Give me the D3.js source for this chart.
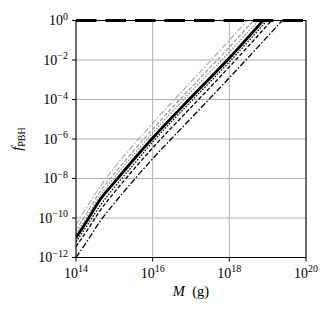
<!DOCTYPE html>
<html>
<head>
<meta charset="utf-8">
<script src="https://cdn.jsdelivr.net/npm/d3@7"></script>
<style>
  body { margin: 0; background: #fff; }
  text { font-family: "Liberation Serif", "DejaVu Serif", serif; }
</style>
</head>
<body>
<svg id="chart" width="334" height="314"></svg>
<script>
// log10 of mass (g) and log10 of f_PBH for each curve
const grayDashDotM = [14, 14.3, 14.6, 15, 15.5, 16, 17, 18, 18.46]
const grayDashDotF = [-10.35, -9.4, -8.5, -7.45, -6.3, -5.2, -3.1, -1.0, 0]
const grayDashedM = [14, 14.3, 14.6, 15, 15.5, 16, 17, 18, 18.63]
const grayDashedF = [-10.6, -9.7, -8.75, -7.75, -6.6, -5.5, -3.4, -1.35, 0]
const grayDottedM = [14, 14.3, 14.6, 15, 15.5, 16, 17, 18, 18.76]
const grayDottedF = [-10.8, -9.9, -8.95, -7.95, -6.8, -5.7, -3.6, -1.6, 0]
const solidM = [14, 14.3, 14.6, 15, 15.5, 16, 17, 18, 18.88]
const solidF = [-11, -10.1, -9.15, -8.2, -7.05, -5.95, -3.9, -1.9, 0]
const blackDottedM = [14, 14.3, 14.6, 15, 15.5, 16, 17, 18, 18.98]
const blackDottedF = [-11.2, -10.35, -9.45, -8.45, -7.3, -6.15, -4.1, -2.1, 0]
const blackDashedM = [14, 14.3, 14.6, 15, 15.5, 16, 17, 18, 19.1]
const blackDashedF = [-11.45, -10.6, -9.7, -8.7, -7.55, -6.45, -4.4, -2.35, 0]
const blackDashDotM = [14, 14.3, 14.6, 15, 15.5, 16, 17, 18, 19.38]
const blackDashDotF = [-12, -11.15, -10.25, -9.25, -8.1, -7.0, -4.95, -2.9, 0]

const xTicks = [14, 16, 18, 20]
const yTicks = [0, -2, -4, -6, -8, -10, -12]
const limitLevel = 0

const width = 334
const height = 314
const marginLeft = 76
const marginRight = 28
const marginTop = 20.5
const marginBottom = 56.5

const svg = d3.select('#chart')
const boundWidth = width - marginLeft - marginRight
const boundHeight = height - marginTop - marginBottom

const xScale = d3.scaleLog().domain([1e14, 1e20]).range([0, boundWidth])
const yScale = d3.scaleLog().domain([1e-12, 1]).range([boundHeight, 0])

const bounds = svg.append('g')
  .attr('transform', `translate(${marginLeft},${marginTop})`)

bounds.append('clipPath').attr('id', 'clip')
  .append('rect').attr('width', boundWidth).attr('height', boundHeight)

// grid
bounds.append('g')
  .selectAll('line')
  .data(xTicks)
  .join('line')
  .attr('x1', d => xScale(10 ** d)).attr('x2', d => xScale(10 ** d))
  .attr('y1', 0).attr('y2', boundHeight)
  .attr('stroke', '#b0b0b0').attr('stroke-width', 1)

bounds.append('g')
  .selectAll('line')
  .data(yTicks)
  .join('line')
  .attr('y1', d => yScale(10 ** d)).attr('y2', d => yScale(10 ** d))
  .attr('x1', 0).attr('x2', boundWidth)
  .attr('stroke', '#b0b0b0').attr('stroke-width', 1)

// curves
const series = [
  { m: grayDashDotM, f: grayDashDotF, color: '#ababab', w: 1.2, dash: '6,2,1.5,2' },
  { m: grayDashedM, f: grayDashedF, color: '#9a9a9a', w: 1.2, dash: '4,2' },
  { m: grayDottedM, f: grayDottedF, color: '#888', w: 1.2, dash: '1.5,1.5' },
  { m: blackDashDotM, f: blackDashDotF, color: '#000', w: 1.3, dash: '6,2,1.5,2' },
  { m: blackDashedM, f: blackDashedF, color: '#000', w: 1.3, dash: '4,2' },
  { m: blackDottedM, f: blackDottedF, color: '#000', w: 1.3, dash: '1.5,1.5' },
  { m: solidM, f: solidF, color: '#000', w: 2.8, dash: null },
]

const line = d3.line()
  .x(d => xScale(10 ** d[0]))
  .y(d => yScale(10 ** d[1]))
  .curve(d3.curveMonotoneX)

const curves = bounds.append('g').attr('clip-path', 'url(#clip)')
series.forEach(s => {
  curves.append('path')
    .datum(s.m.map((m, i) => [m, s.f[i]]))
    .attr('fill', 'none')
    .attr('stroke', s.color)
    .attr('stroke-width', s.w)
    .attr('stroke-dasharray', s.dash)
    .attr('d', line)
})

// frame
bounds.append('rect')
  .attr('width', boundWidth).attr('height', boundHeight)
  .attr('fill', 'none').attr('stroke', '#000').attr('stroke-width', 1)

// f = 1 limit
bounds.append('line')
  .attr('x1', xScale(1e14)).attr('x2', xScale(1e20))
  .attr('y1', yScale(10 ** limitLevel)).attr('y2', yScale(10 ** limitLevel))
  .attr('stroke', '#000').attr('stroke-width', 3)
  .attr('stroke-dasharray', '20.5,9')

// axes ticks + labels
const xAxis = bounds.append('g').attr('transform', `translate(0,${boundHeight})`)
xAxis.selectAll('line')
  .data(xTicks).join('line')
  .attr('x1', d => xScale(10 ** d)).attr('x2', d => xScale(10 ** d))
  .attr('y1', 0).attr('y2', 4)
  .attr('stroke', '#000')
const xLabels = xAxis.selectAll('text')
  .data(xTicks).join('text')
  .attr('x', d => xScale(10 ** d))
  .attr('y', 20)
  .attr('text-anchor', 'middle')
  .attr('font-size', 14)
xLabels.append('tspan').text('10')
xLabels.append('tspan').attr('dy', -5.5).attr('font-size', 10).text(d => d)

const yAxis = bounds.append('g')
yAxis.selectAll('line')
  .data(yTicks).join('line')
  .attr('y1', d => yScale(10 ** d)).attr('y2', d => yScale(10 ** d))
  .attr('x1', -4).attr('x2', 0)
  .attr('stroke', '#000')
const yLabels = yAxis.selectAll('text')
  .data(yTicks).join('text')
  .attr('x', -8)
  .attr('y', d => yScale(10 ** d) + 4.5)
  .attr('text-anchor', 'end')
  .attr('font-size', 14)
yLabels.append('tspan').text('10')
yLabels.append('tspan').attr('dy', -5.5).attr('font-size', 10)
  .text(d => d < 0 ? '\u2212' + Math.abs(d) : d)

// axis titles
const xTitle = svg.append('text')
  .attr('x', marginLeft + boundWidth / 2)
  .attr('y', 296)
  .attr('text-anchor', 'middle')
  .attr('font-size', 14.5)
xTitle.append('tspan').attr('font-style', 'italic').text('M')
xTitle.append('tspan').text('\u2002(g)')

const yTitle = svg.append('text')
  .attr('transform', `translate(22,${marginTop + boundHeight / 2}) rotate(-90)`)
  .attr('text-anchor', 'middle')
  .attr('font-size', 14.5)
yTitle.append('tspan').attr('font-style', 'italic').text('f')
yTitle.append('tspan').attr('dy', 3).attr('font-size', 10).text('PBH')
</script>
</body>
</html>
